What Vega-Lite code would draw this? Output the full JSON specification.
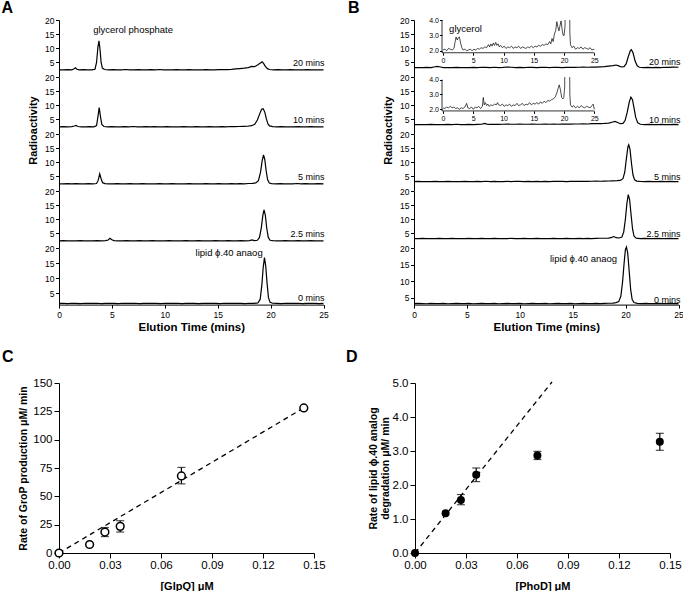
{
"$schema":"https://vega.github.io/schema/vega-lite/v6.json",
"background":"white",
"padding":{"left":1,"top":0,"right":0,"bottom":0},
"config":{"view":{"stroke":null},"font":"Liberation Sans",
"axis":{"grid":false,"labelOverlap":false,"labelFlush":false,"domainColor":"#000","tickColor":"#000","labelColor":"#000","titleColor":"#000","labelFont":"Liberation Sans","titleFont":"Liberation Sans","titleFontWeight":"bold","domainWidth":1,"tickWidth":1},
"text":{"font":"Liberation Sans","color":"#000"},"title":{"font":"Liberation Sans","color":"#000"}},
"datasets":{
"A20":[{"x":0,"y":2.4},{"x":0.4,"y":2.35},{"x":0.8,"y":2.45},{"x":1.2,"y":2.4},{"x":1.4,"y":2.7},{"x":1.55,"y":3.1},{"x":1.7,"y":2.6},{"x":1.9,"y":2.4},{"x":2.3,"y":2.45},{"x":2.7,"y":2.4},{"x":3.1,"y":2.4},{"x":3.4,"y":2.6},{"x":3.55,"y":5.0},{"x":3.68,"y":10.5},{"x":3.78,"y":12.6},{"x":3.88,"y":9.5},{"x":3.98,"y":5.0},{"x":4.1,"y":3.0},{"x":4.3,"y":2.5},{"x":4.7,"y":2.4},{"x":5.1,"y":2.45},{"x":5.5,"y":2.35},{"x":5.9,"y":2.4},{"x":6.3,"y":2.5},{"x":6.7,"y":2.4},{"x":7.1,"y":2.35},{"x":7.5,"y":2.45},{"x":7.9,"y":2.4},{"x":8.3,"y":2.35},{"x":8.7,"y":2.45},{"x":9.1,"y":2.4},{"x":9.5,"y":2.5},{"x":9.9,"y":2.4},{"x":10.3,"y":2.35},{"x":10.7,"y":2.4},{"x":11.1,"y":2.45},{"x":11.5,"y":2.35},{"x":11.9,"y":2.4},{"x":12.3,"y":2.45},{"x":12.7,"y":2.35},{"x":13.1,"y":2.4},{"x":13.5,"y":2.4},{"x":13.9,"y":2.45},{"x":14.3,"y":2.35},{"x":14.7,"y":2.4},{"x":15.1,"y":2.45},{"x":15.5,"y":2.5},{"x":15.9,"y":2.5},{"x":16.3,"y":2.55},{"x":16.7,"y":2.7},{"x":17.1,"y":2.85},{"x":17.5,"y":3.0},{"x":17.9,"y":3.2},{"x":18.2,"y":3.6},{"x":18.5,"y":3.5},{"x":18.8,"y":4.2},{"x":19.0,"y":4.7},{"x":19.2,"y":5.2},{"x":19.35,"y":4.6},{"x":19.5,"y":3.6},{"x":19.7,"y":2.8},{"x":19.9,"y":2.5},{"x":20.3,"y":2.4},{"x":20.7,"y":2.45},{"x":21.1,"y":2.4},{"x":21.5,"y":2.35},{"x":21.9,"y":2.45},{"x":22.3,"y":2.4},{"x":22.7,"y":2.35},{"x":23.1,"y":2.4},{"x":23.5,"y":2.45},{"x":23.9,"y":2.4},{"x":24.3,"y":2.35},{"x":24.7,"y":2.4},{"x":25,"y":2.4}],
"A10":[{"x":0,"y":2.4},{"x":0.4,"y":2.45},{"x":0.8,"y":2.4},{"x":1.2,"y":2.45},{"x":1.45,"y":2.7},{"x":1.6,"y":2.9},{"x":1.8,"y":2.5},{"x":2.1,"y":2.4},{"x":2.5,"y":2.35},{"x":2.9,"y":2.45},{"x":3.3,"y":2.4},{"x":3.55,"y":2.8},{"x":3.68,"y":6.0},{"x":3.8,"y":9.2},{"x":3.92,"y":6.0},{"x":4.05,"y":3.2},{"x":4.25,"y":2.5},{"x":4.6,"y":2.4},{"x":5,"y":2.45},{"x":5.4,"y":2.4},{"x":5.8,"y":2.35},{"x":6.2,"y":2.45},{"x":6.6,"y":2.4},{"x":7,"y":2.5},{"x":7.4,"y":2.4},{"x":7.8,"y":2.35},{"x":8.2,"y":2.45},{"x":8.6,"y":2.4},{"x":9,"y":2.45},{"x":9.4,"y":2.35},{"x":9.8,"y":2.4},{"x":10.2,"y":2.45},{"x":10.6,"y":2.4},{"x":11,"y":2.35},{"x":11.4,"y":2.4},{"x":11.8,"y":2.45},{"x":12.2,"y":2.4},{"x":12.6,"y":2.35},{"x":13,"y":2.45},{"x":13.4,"y":2.4},{"x":13.8,"y":2.4},{"x":14.2,"y":2.45},{"x":14.6,"y":2.35},{"x":15,"y":2.4},{"x":15.4,"y":2.45},{"x":15.8,"y":2.4},{"x":16.2,"y":2.5},{"x":16.6,"y":2.45},{"x":17,"y":2.5},{"x":17.4,"y":2.55},{"x":17.8,"y":2.6},{"x":18.2,"y":2.8},{"x":18.5,"y":3.3},{"x":18.75,"y":4.8},{"x":18.95,"y":6.8},{"x":19.15,"y":8.6},{"x":19.3,"y":8.8},{"x":19.45,"y":7.6},{"x":19.6,"y":5.2},{"x":19.75,"y":3.4},{"x":19.9,"y":2.7},{"x":20.2,"y":2.45},{"x":20.6,"y":2.4},{"x":21,"y":2.45},{"x":21.4,"y":2.4},{"x":21.8,"y":2.35},{"x":22.2,"y":2.4},{"x":22.6,"y":2.45},{"x":23,"y":2.4},{"x":23.4,"y":2.35},{"x":23.8,"y":2.45},{"x":24.2,"y":2.4},{"x":24.6,"y":2.35},{"x":25,"y":2.4}],
"A5":[{"x":0,"y":2.4},{"x":0.4,"y":2.35},{"x":0.8,"y":2.45},{"x":1.2,"y":2.4},{"x":1.6,"y":2.45},{"x":2,"y":2.4},{"x":2.4,"y":2.35},{"x":2.8,"y":2.45},{"x":3.2,"y":2.4},{"x":3.55,"y":2.5},{"x":3.7,"y":3.6},{"x":3.85,"y":5.9},{"x":3.98,"y":4.2},{"x":4.12,"y":2.8},{"x":4.35,"y":2.45},{"x":4.7,"y":2.4},{"x":5.1,"y":2.35},{"x":5.5,"y":2.45},{"x":5.9,"y":2.4},{"x":6.3,"y":2.4},{"x":6.7,"y":2.45},{"x":7.1,"y":2.35},{"x":7.5,"y":2.4},{"x":7.9,"y":2.45},{"x":8.3,"y":2.4},{"x":8.7,"y":2.4},{"x":9.1,"y":2.35},{"x":9.5,"y":2.45},{"x":9.9,"y":2.4},{"x":10.3,"y":2.4},{"x":10.7,"y":2.45},{"x":11.1,"y":2.35},{"x":11.5,"y":2.4},{"x":11.9,"y":2.4},{"x":12.3,"y":2.45},{"x":12.7,"y":2.4},{"x":13.1,"y":2.35},{"x":13.5,"y":2.4},{"x":13.9,"y":2.45},{"x":14.3,"y":2.4},{"x":14.7,"y":2.4},{"x":15.1,"y":2.45},{"x":15.5,"y":2.4},{"x":15.9,"y":2.35},{"x":16.3,"y":2.45},{"x":16.7,"y":2.4},{"x":17.1,"y":2.45},{"x":17.5,"y":2.4},{"x":17.9,"y":2.5},{"x":18.3,"y":2.55},{"x":18.6,"y":2.7},{"x":18.85,"y":3.5},{"x":19.05,"y":6.5},{"x":19.2,"y":10.5},{"x":19.33,"y":12.6},{"x":19.45,"y":11.0},{"x":19.58,"y":7.0},{"x":19.72,"y":3.8},{"x":19.88,"y":2.7},{"x":20.1,"y":2.45},{"x":20.5,"y":2.4},{"x":20.9,"y":2.45},{"x":21.3,"y":2.4},{"x":21.7,"y":2.35},{"x":22.1,"y":2.4},{"x":22.5,"y":2.5},{"x":22.9,"y":2.4},{"x":23.3,"y":2.45},{"x":23.7,"y":2.4},{"x":24.1,"y":2.35},{"x":24.5,"y":2.45},{"x":25,"y":2.4}],
"A25":[{"x":0,"y":2.4},{"x":0.4,"y":2.45},{"x":0.8,"y":2.4},{"x":1.2,"y":2.35},{"x":1.6,"y":2.4},{"x":2,"y":2.45},{"x":2.4,"y":2.4},{"x":2.8,"y":2.4},{"x":3.2,"y":2.35},{"x":3.6,"y":2.45},{"x":4,"y":2.4},{"x":4.4,"y":2.45},{"x":4.65,"y":2.7},{"x":4.82,"y":3.3},{"x":5.0,"y":2.8},{"x":5.2,"y":2.45},{"x":5.6,"y":2.4},{"x":6,"y":2.35},{"x":6.4,"y":2.45},{"x":6.8,"y":2.4},{"x":7.2,"y":2.4},{"x":7.6,"y":2.45},{"x":8,"y":2.35},{"x":8.4,"y":2.4},{"x":8.8,"y":2.45},{"x":9.2,"y":2.4},{"x":9.6,"y":2.35},{"x":10,"y":2.4},{"x":10.4,"y":2.45},{"x":10.8,"y":2.4},{"x":11.2,"y":2.4},{"x":11.6,"y":2.35},{"x":12,"y":2.45},{"x":12.4,"y":2.4},{"x":12.8,"y":2.4},{"x":13.2,"y":2.45},{"x":13.6,"y":2.35},{"x":14,"y":2.4},{"x":14.4,"y":2.4},{"x":14.8,"y":2.45},{"x":15.2,"y":2.4},{"x":15.6,"y":2.35},{"x":16,"y":2.45},{"x":16.4,"y":2.4},{"x":16.8,"y":2.4},{"x":17.2,"y":2.45},{"x":17.6,"y":2.4},{"x":18,"y":2.45},{"x":18.25,"y":2.75},{"x":18.45,"y":2.5},{"x":18.75,"y":2.6},{"x":18.95,"y":3.6},{"x":19.12,"y":7.0},{"x":19.27,"y":11.5},{"x":19.38,"y":13.3},{"x":19.5,"y":11.5},{"x":19.63,"y":7.0},{"x":19.78,"y":3.6},{"x":19.95,"y":2.6},{"x":20.2,"y":2.45},{"x":20.6,"y":2.4},{"x":21,"y":2.35},{"x":21.4,"y":2.45},{"x":21.8,"y":2.4},{"x":22.2,"y":2.4},{"x":22.6,"y":2.45},{"x":23,"y":2.35},{"x":23.4,"y":2.4},{"x":23.8,"y":2.45},{"x":24.2,"y":2.4},{"x":24.6,"y":2.35},{"x":25,"y":2.4}],
"A0":[{"x":0,"y":1.6},{"x":0.4,"y":1.65},{"x":0.8,"y":1.55},{"x":1.2,"y":1.65},{"x":1.6,"y":1.6},{"x":2,"y":1.55},{"x":2.4,"y":1.65},{"x":2.8,"y":1.6},{"x":3.2,"y":1.6},{"x":3.6,"y":1.65},{"x":4,"y":1.55},{"x":4.4,"y":1.6},{"x":4.8,"y":1.65},{"x":5.2,"y":1.6},{"x":5.6,"y":1.55},{"x":6,"y":1.65},{"x":6.4,"y":1.6},{"x":6.8,"y":1.6},{"x":7.2,"y":1.65},{"x":7.6,"y":1.55},{"x":8,"y":1.6},{"x":8.4,"y":1.65},{"x":8.8,"y":1.6},{"x":9.2,"y":1.6},{"x":9.6,"y":1.55},{"x":10,"y":1.65},{"x":10.4,"y":1.6},{"x":10.8,"y":1.6},{"x":11.2,"y":1.65},{"x":11.6,"y":1.55},{"x":12,"y":1.6},{"x":12.4,"y":1.65},{"x":12.8,"y":1.6},{"x":13.2,"y":1.55},{"x":13.6,"y":1.6},{"x":14,"y":1.65},{"x":14.4,"y":1.6},{"x":14.8,"y":1.6},{"x":15.2,"y":1.55},{"x":15.6,"y":1.65},{"x":16,"y":1.6},{"x":16.4,"y":1.6},{"x":16.8,"y":1.65},{"x":17.2,"y":1.6},{"x":17.6,"y":1.55},{"x":18,"y":1.65},{"x":18.4,"y":1.6},{"x":18.8,"y":1.75},{"x":19.02,"y":3.0},{"x":19.18,"y":8.0},{"x":19.3,"y":13.5},{"x":19.42,"y":16.8},{"x":19.54,"y":14.0},{"x":19.66,"y":8.5},{"x":19.8,"y":3.5},{"x":19.95,"y":2.0},{"x":20.2,"y":1.65},{"x":20.6,"y":1.6},{"x":21,"y":1.55},{"x":21.4,"y":1.65},{"x":21.8,"y":1.6},{"x":22.2,"y":1.6},{"x":22.6,"y":1.65},{"x":23,"y":1.55},{"x":23.4,"y":1.6},{"x":23.8,"y":1.65},{"x":24.2,"y":1.6},{"x":24.6,"y":1.55},{"x":25,"y":1.6}],
"B20":[{"x":0,"y":3.2},{"x":0.4,"y":3.15},{"x":0.8,"y":3.2},{"x":1.2,"y":3.25},{"x":1.6,"y":3.2},{"x":1.9,"y":3.4},{"x":2.2,"y":3.6},{"x":2.5,"y":3.4},{"x":2.8,"y":3.2},{"x":3.2,"y":3.15},{"x":3.6,"y":3.2},{"x":4,"y":3.25},{"x":4.4,"y":3.2},{"x":4.8,"y":3.15},{"x":5.2,"y":3.2},{"x":5.6,"y":3.25},{"x":6,"y":3.2},{"x":6.4,"y":3.3},{"x":6.8,"y":3.25},{"x":7.2,"y":3.2},{"x":7.6,"y":3.3},{"x":8,"y":3.2},{"x":8.4,"y":3.25},{"x":8.8,"y":3.4},{"x":9.2,"y":3.3},{"x":9.6,"y":3.2},{"x":10,"y":3.25},{"x":10.4,"y":3.2},{"x":10.8,"y":3.3},{"x":11.2,"y":3.25},{"x":11.6,"y":3.2},{"x":12,"y":3.25},{"x":12.4,"y":3.3},{"x":12.8,"y":3.2},{"x":13.2,"y":3.3},{"x":13.6,"y":3.25},{"x":14,"y":3.2},{"x":14.4,"y":3.25},{"x":14.8,"y":3.3},{"x":15.2,"y":3.25},{"x":15.6,"y":3.3},{"x":16,"y":3.35},{"x":16.4,"y":3.3},{"x":16.8,"y":3.4},{"x":17.2,"y":3.35},{"x":17.6,"y":3.45},{"x":18,"y":3.5},{"x":18.4,"y":3.7},{"x":18.8,"y":3.9},{"x":19.1,"y":4.1},{"x":19.35,"y":3.8},{"x":19.6,"y":3.4},{"x":19.85,"y":3.5},{"x":20.05,"y":4.5},{"x":20.25,"y":7.0},{"x":20.45,"y":9.2},{"x":20.55,"y":9.5},{"x":20.7,"y":8.4},{"x":20.9,"y":5.5},{"x":21.1,"y":3.8},{"x":21.3,"y":3.3},{"x":21.7,"y":3.2},{"x":22.1,"y":3.25},{"x":22.5,"y":3.2},{"x":22.9,"y":3.25},{"x":23.3,"y":3.2},{"x":23.7,"y":3.3},{"x":24.1,"y":3.25},{"x":24.5,"y":3.35},{"x":25,"y":3.3}],
"B10":[{"x":0,"y":3.2},{"x":0.4,"y":3.15},{"x":0.8,"y":3.2},{"x":1.2,"y":3.2},{"x":1.6,"y":3.25},{"x":2,"y":3.2},{"x":2.4,"y":3.15},{"x":2.8,"y":3.2},{"x":3.2,"y":3.25},{"x":3.6,"y":3.2},{"x":4,"y":3.3},{"x":4.4,"y":3.2},{"x":4.8,"y":3.2},{"x":5.2,"y":3.25},{"x":5.6,"y":3.2},{"x":6,"y":3.25},{"x":6.4,"y":3.3},{"x":6.65,"y":3.6},{"x":6.9,"y":3.35},{"x":7.2,"y":3.25},{"x":7.6,"y":3.3},{"x":8,"y":3.25},{"x":8.4,"y":3.3},{"x":8.8,"y":3.4},{"x":9.2,"y":3.3},{"x":9.6,"y":3.3},{"x":10,"y":3.35},{"x":10.4,"y":3.3},{"x":10.8,"y":3.3},{"x":11.2,"y":3.35},{"x":11.6,"y":3.3},{"x":12,"y":3.3},{"x":12.4,"y":3.35},{"x":12.8,"y":3.3},{"x":13.2,"y":3.35},{"x":13.6,"y":3.3},{"x":14,"y":3.35},{"x":14.4,"y":3.4},{"x":14.8,"y":3.35},{"x":15.2,"y":3.4},{"x":15.6,"y":3.4},{"x":16,"y":3.45},{"x":16.4,"y":3.4},{"x":16.8,"y":3.5},{"x":17.2,"y":3.5},{"x":17.6,"y":3.55},{"x":18,"y":3.6},{"x":18.4,"y":3.7},{"x":18.7,"y":4.0},{"x":19.0,"y":4.3},{"x":19.25,"y":3.9},{"x":19.5,"y":3.5},{"x":19.75,"y":3.6},{"x":19.95,"y":4.6},{"x":20.15,"y":7.5},{"x":20.35,"y":11.2},{"x":20.5,"y":12.9},{"x":20.65,"y":12.0},{"x":20.8,"y":9.0},{"x":20.95,"y":5.8},{"x":21.15,"y":3.8},{"x":21.4,"y":3.3},{"x":21.8,"y":3.2},{"x":22.2,"y":3.25},{"x":22.6,"y":3.2},{"x":23,"y":3.2},{"x":23.4,"y":3.25},{"x":23.8,"y":3.2},{"x":24.2,"y":3.2},{"x":24.6,"y":3.25},{"x":25,"y":3.2}],
"B5":[{"x":0,"y":3.2},{"x":0.4,"y":3.25},{"x":0.8,"y":3.2},{"x":1.2,"y":3.15},{"x":1.6,"y":3.2},{"x":2,"y":3.25},{"x":2.4,"y":3.2},{"x":2.8,"y":3.2},{"x":3.2,"y":3.25},{"x":3.6,"y":3.2},{"x":4,"y":3.15},{"x":4.4,"y":3.2},{"x":4.8,"y":3.25},{"x":5.2,"y":3.2},{"x":5.6,"y":3.2},{"x":6,"y":3.25},{"x":6.4,"y":3.2},{"x":6.8,"y":3.3},{"x":7.2,"y":3.2},{"x":7.6,"y":3.25},{"x":8,"y":3.2},{"x":8.4,"y":3.2},{"x":8.8,"y":3.25},{"x":9.2,"y":3.2},{"x":9.6,"y":3.3},{"x":10,"y":3.25},{"x":10.4,"y":3.2},{"x":10.8,"y":3.25},{"x":11.2,"y":3.2},{"x":11.6,"y":3.25},{"x":12,"y":3.2},{"x":12.4,"y":3.25},{"x":12.8,"y":3.2},{"x":13.2,"y":3.25},{"x":13.6,"y":3.3},{"x":14,"y":3.25},{"x":14.4,"y":3.2},{"x":14.8,"y":3.25},{"x":15.2,"y":3.3},{"x":15.6,"y":3.25},{"x":16,"y":3.3},{"x":16.4,"y":3.25},{"x":16.8,"y":3.3},{"x":17.2,"y":3.35},{"x":17.6,"y":3.3},{"x":18,"y":3.35},{"x":18.4,"y":3.4},{"x":18.8,"y":3.45},{"x":19.2,"y":3.5},{"x":19.5,"y":3.6},{"x":19.75,"y":4.2},{"x":19.92,"y":6.5},{"x":20.08,"y":11.5},{"x":20.22,"y":15.5},{"x":20.3,"y":16.2},{"x":20.42,"y":14.5},{"x":20.56,"y":9.5},{"x":20.7,"y":5.5},{"x":20.85,"y":3.8},{"x":21.05,"y":3.35},{"x":21.4,"y":3.25},{"x":21.8,"y":3.2},{"x":22.2,"y":3.25},{"x":22.6,"y":3.2},{"x":23,"y":3.2},{"x":23.4,"y":3.25},{"x":23.8,"y":3.2},{"x":24.2,"y":3.25},{"x":24.6,"y":3.2},{"x":25,"y":3.2}],
"B25":[{"x":0,"y":3.2},{"x":0.4,"y":3.2},{"x":0.8,"y":3.25},{"x":1.2,"y":3.2},{"x":1.6,"y":3.15},{"x":2,"y":3.2},{"x":2.4,"y":3.25},{"x":2.8,"y":3.2},{"x":3.2,"y":3.2},{"x":3.6,"y":3.25},{"x":4,"y":3.2},{"x":4.4,"y":3.15},{"x":4.8,"y":3.2},{"x":5.2,"y":3.25},{"x":5.6,"y":3.2},{"x":6,"y":3.2},{"x":6.4,"y":3.25},{"x":6.8,"y":3.2},{"x":7.2,"y":3.2},{"x":7.6,"y":3.25},{"x":8,"y":3.2},{"x":8.4,"y":3.15},{"x":8.8,"y":3.2},{"x":9.2,"y":3.25},{"x":9.6,"y":3.2},{"x":10,"y":3.2},{"x":10.4,"y":3.25},{"x":10.8,"y":3.2},{"x":11.2,"y":3.2},{"x":11.6,"y":3.25},{"x":12,"y":3.2},{"x":12.4,"y":3.15},{"x":12.8,"y":3.2},{"x":13.2,"y":3.25},{"x":13.6,"y":3.2},{"x":14,"y":3.2},{"x":14.4,"y":3.25},{"x":14.8,"y":3.2},{"x":15.2,"y":3.2},{"x":15.6,"y":3.25},{"x":16,"y":3.2},{"x":16.4,"y":3.25},{"x":16.8,"y":3.2},{"x":17.2,"y":3.25},{"x":17.6,"y":3.3},{"x":18,"y":3.3},{"x":18.4,"y":3.35},{"x":18.7,"y":3.6},{"x":18.9,"y":3.9},{"x":19.1,"y":3.5},{"x":19.4,"y":3.4},{"x":19.65,"y":3.7},{"x":19.82,"y":5.5},{"x":19.98,"y":10.0},{"x":20.12,"y":15.5},{"x":20.25,"y":18.7},{"x":20.38,"y":17.0},{"x":20.52,"y":11.5},{"x":20.66,"y":6.5},{"x":20.8,"y":4.0},{"x":21.0,"y":3.35},{"x":21.4,"y":3.2},{"x":21.8,"y":3.25},{"x":22.2,"y":3.2},{"x":22.6,"y":3.2},{"x":23,"y":3.25},{"x":23.4,"y":3.2},{"x":23.8,"y":3.2},{"x":24.2,"y":3.25},{"x":24.6,"y":3.2},{"x":25,"y":3.2}],
"B0":[{"x":0,"y":3.3},{"x":0.4,"y":3.35},{"x":0.8,"y":3.3},{"x":1.2,"y":3.25},{"x":1.6,"y":3.35},{"x":2,"y":3.3},{"x":2.4,"y":3.3},{"x":2.8,"y":3.35},{"x":3.2,"y":3.25},{"x":3.6,"y":3.3},{"x":4,"y":3.35},{"x":4.4,"y":3.3},{"x":4.8,"y":3.3},{"x":5.2,"y":3.35},{"x":5.6,"y":3.25},{"x":6,"y":3.3},{"x":6.4,"y":3.35},{"x":6.8,"y":3.3},{"x":7.2,"y":3.3},{"x":7.6,"y":3.35},{"x":8,"y":3.25},{"x":8.4,"y":3.3},{"x":8.8,"y":3.35},{"x":9.2,"y":3.3},{"x":9.6,"y":3.3},{"x":10,"y":3.35},{"x":10.4,"y":3.25},{"x":10.8,"y":3.3},{"x":11.2,"y":3.35},{"x":11.6,"y":3.3},{"x":12,"y":3.3},{"x":12.4,"y":3.35},{"x":12.8,"y":3.25},{"x":13.2,"y":3.3},{"x":13.6,"y":3.35},{"x":14,"y":3.3},{"x":14.4,"y":3.3},{"x":14.8,"y":3.35},{"x":15.2,"y":3.25},{"x":15.6,"y":3.3},{"x":16,"y":3.35},{"x":16.4,"y":3.3},{"x":16.8,"y":3.3},{"x":17.2,"y":3.35},{"x":17.6,"y":3.3},{"x":18,"y":3.35},{"x":18.4,"y":3.4},{"x":18.8,"y":3.45},{"x":19.1,"y":3.6},{"x":19.35,"y":3.9},{"x":19.55,"y":5.5},{"x":19.72,"y":10.0},{"x":19.86,"y":15.5},{"x":19.98,"y":19.5},{"x":20.08,"y":20.3},{"x":20.2,"y":18.5},{"x":20.34,"y":13.0},{"x":20.48,"y":7.5},{"x":20.62,"y":4.5},{"x":20.8,"y":3.6},{"x":21.1,"y":3.35},{"x":21.5,"y":3.3},{"x":21.9,"y":3.35},{"x":22.3,"y":3.3},{"x":22.7,"y":3.3},{"x":23.1,"y":3.35},{"x":23.5,"y":3.3},{"x":23.9,"y":3.3},{"x":24.3,"y":3.35},{"x":24.7,"y":3.3},{"x":25,"y":3.3}],
"I20":[{"x":0,"y":2.05},{"x":0.3,"y":2.1},{"x":0.6,"y":2.0},{"x":0.9,"y":2.15},{"x":1.2,"y":2.1},{"x":1.5,"y":2.05},{"x":1.8,"y":2.15},{"x":2.0,"y":2.6},{"x":2.15,"y":2.9},{"x":2.35,"y":2.7},{"x":2.5,"y":2.85},{"x":2.7,"y":2.9},{"x":2.9,"y":2.5},{"x":3.1,"y":2.2},{"x":3.3,"y":2.05},{"x":3.6,"y":2.1},{"x":3.9,"y":2.0},{"x":4.2,"y":2.05},{"x":4.5,"y":2.1},{"x":4.8,"y":2.0},{"x":5.1,"y":2.1},{"x":5.4,"y":2.05},{"x":5.7,"y":2.15},{"x":6.0,"y":2.1},{"x":6.3,"y":2.2},{"x":6.6,"y":2.15},{"x":6.9,"y":2.25},{"x":7.2,"y":2.2},{"x":7.5,"y":2.4},{"x":7.7,"y":2.25},{"x":7.9,"y":2.45},{"x":8.1,"y":2.3},{"x":8.3,"y":2.5},{"x":8.5,"y":2.35},{"x":8.7,"y":2.55},{"x":8.9,"y":2.35},{"x":9.1,"y":2.45},{"x":9.3,"y":2.25},{"x":9.5,"y":2.35},{"x":9.8,"y":2.2},{"x":10.1,"y":2.3},{"x":10.4,"y":2.15},{"x":10.7,"y":2.25},{"x":11.0,"y":2.2},{"x":11.3,"y":2.3},{"x":11.6,"y":2.15},{"x":11.9,"y":2.25},{"x":12.2,"y":2.2},{"x":12.5,"y":2.3},{"x":12.8,"y":2.15},{"x":13.1,"y":2.25},{"x":13.4,"y":2.2},{"x":13.7,"y":2.15},{"x":14.0,"y":2.25},{"x":14.3,"y":2.2},{"x":14.6,"y":2.3},{"x":14.9,"y":2.2},{"x":15.2,"y":2.3},{"x":15.5,"y":2.25},{"x":15.8,"y":2.35},{"x":16.1,"y":2.3},{"x":16.4,"y":2.4},{"x":16.7,"y":2.35},{"x":17.0,"y":2.45},{"x":17.3,"y":2.4},{"x":17.6,"y":2.6},{"x":17.8,"y":2.45},{"x":18.0,"y":2.8},{"x":18.2,"y":2.6},{"x":18.4,"y":3.1},{"x":18.6,"y":3.3},{"x":18.8,"y":3.9},{"x":19.0,"y":3.5},{"x":19.15,"y":3.3},{"x":19.3,"y":3.6},{"x":19.5,"y":3.95},{"x":19.7,"y":3.3},{"x":19.85,"y":3.0},{"x":20.0,"y":3.0},{"x":20.15,"y":3.6},{"x":20.25,"y":9},{"x":20.85,"y":9},{"x":20.95,"y":3.2},{"x":21.05,"y":2.4},{"x":21.3,"y":2.2},{"x":21.6,"y":2.3},{"x":21.9,"y":2.1},{"x":22.2,"y":2.2},{"x":22.5,"y":2.15},{"x":22.8,"y":2.25},{"x":23.1,"y":2.1},{"x":23.4,"y":2.2},{"x":23.7,"y":2.15},{"x":24.0,"y":2.1},{"x":24.3,"y":2.2},{"x":24.6,"y":2.05},{"x":24.9,"y":2.1},{"x":25,"y":2.05}],
"I10":[{"x":0,"y":2.1},{"x":0.3,"y":2.05},{"x":0.6,"y":2.15},{"x":0.9,"y":2.1},{"x":1.2,"y":2.2},{"x":1.5,"y":2.1},{"x":1.8,"y":2.15},{"x":2.1,"y":2.05},{"x":2.4,"y":2.1},{"x":2.7,"y":2.0},{"x":3.0,"y":2.1},{"x":3.3,"y":2.05},{"x":3.6,"y":2.15},{"x":3.9,"y":2.4},{"x":4.1,"y":2.1},{"x":4.4,"y":2.05},{"x":4.7,"y":2.15},{"x":5.0,"y":2.0},{"x":5.3,"y":2.15},{"x":5.6,"y":2.1},{"x":5.9,"y":2.2},{"x":6.2,"y":2.05},{"x":6.5,"y":2.2},{"x":6.65,"y":2.8},{"x":6.8,"y":2.3},{"x":7.0,"y":2.45},{"x":7.2,"y":2.25},{"x":7.4,"y":2.35},{"x":7.6,"y":2.2},{"x":7.9,"y":2.3},{"x":8.2,"y":2.25},{"x":8.5,"y":2.35},{"x":8.8,"y":2.3},{"x":9.0,"y":2.45},{"x":9.2,"y":2.3},{"x":9.5,"y":2.25},{"x":9.8,"y":2.35},{"x":10.1,"y":2.2},{"x":10.4,"y":2.3},{"x":10.7,"y":2.25},{"x":11.0,"y":2.35},{"x":11.3,"y":2.2},{"x":11.6,"y":2.3},{"x":11.9,"y":2.25},{"x":12.2,"y":2.4},{"x":12.5,"y":2.25},{"x":12.8,"y":2.3},{"x":13.1,"y":2.4},{"x":13.4,"y":2.25},{"x":13.7,"y":2.35},{"x":14.0,"y":2.3},{"x":14.3,"y":2.45},{"x":14.6,"y":2.3},{"x":14.9,"y":2.4},{"x":15.2,"y":2.35},{"x":15.5,"y":2.45},{"x":15.8,"y":2.35},{"x":16.1,"y":2.5},{"x":16.4,"y":2.4},{"x":16.7,"y":2.55},{"x":17.0,"y":2.45},{"x":17.3,"y":2.6},{"x":17.6,"y":2.55},{"x":17.9,"y":2.65},{"x":18.2,"y":2.7},{"x":18.5,"y":2.8},{"x":18.8,"y":3.1},{"x":19.0,"y":3.4},{"x":19.2,"y":3.65},{"x":19.4,"y":3.3},{"x":19.6,"y":2.8},{"x":19.8,"y":2.7},{"x":19.95,"y":2.8},{"x":20.1,"y":3.5},{"x":20.15,"y":9},{"x":20.85,"y":9},{"x":20.95,"y":3.0},{"x":21.05,"y":2.3},{"x":21.3,"y":2.15},{"x":21.6,"y":2.25},{"x":21.9,"y":2.1},{"x":22.2,"y":2.2},{"x":22.5,"y":2.1},{"x":22.8,"y":2.25},{"x":23.1,"y":2.15},{"x":23.4,"y":2.1},{"x":23.7,"y":2.2},{"x":24.0,"y":2.15},{"x":24.3,"y":2.1},{"x":24.6,"y":2.25},{"x":24.8,"y":2.35},{"x":25,"y":2.0}],
"Cpts":[{"x":0,"y":0},{"x":0.018,"y":7.5},{"x":0.027,"y":18.5},{"x":0.036,"y":23.5},{"x":0.072,"y":68},{"x":0.144,"y":128}],
"Cerr":[{"x":0.027,"lo":14.5,"hi":22.5},{"x":0.036,"lo":18.5,"hi":28.5},{"x":0.072,"lo":61,"hi":75.5}],
"Cfit":[{"x":0,"y":0},{"x":0.1445,"y":128.5}],
"Dpts":[{"x":0,"y":0},{"x":0.018,"y":1.17},{"x":0.027,"y":1.56},{"x":0.036,"y":2.3},{"x":0.072,"y":2.87},{"x":0.144,"y":3.27}],
"Derr":[{"x":0.027,"lo":1.42,"hi":1.72},{"x":0.036,"lo":2.1,"hi":2.5},{"x":0.072,"lo":2.75,"hi":2.99},{"x":0.144,"lo":3.02,"hi":3.52}],
"Dfit":[{"x":0,"y":0},{"x":0.0806,"y":5.03}]
},
"spacing":15,
"vconcat":[
{"hconcat":[
{"title":{"text":"A","anchor":"start","frame":"group","dx":-57.5,"fontSize":16,"fontWeight":"bold","offset":0},
 "spacing":0,"bounds":"flush",
 "vconcat":[
  {"width":264.5,"height":56.6,"layer":[
   {"data":{"name":"A20"},"mark":{"type":"line","color":"#000","strokeWidth":1.2},"encoding":{"x":{"field":"x","type":"quantitative","scale":{"domain":[0,25],"nice":false},"axis":null},"y":{"field":"y","type":"quantitative","scale":{"domain":[0,20],"nice":false},"axis":{"values":[5,10,15,20],"format":"d","tickCount":30,"labelOverlap":false,"tickSize":3.5,"labelFontSize":8.5,"labelPadding":1.5,"title":null}}}},
   {"data":{"values":[{}]},"mark":{"type":"text","align":"right","baseline":"alphabetic","fontSize":9,"dx":1},"encoding":{"x":{"datum":25},"y":{"datum":3.9},"text":{"value":"20 mins"}}},
   {"data":{"values":[{}]},"mark":{"type":"text","align":"center","baseline":"middle","fontSize":9.5},"encoding":{"x":{"datum":7.0},"y":{"datum":16.6},"text":{"value":"glycerol phosphate"}}}
  ]},
  {"width":264.5,"height":56.6,"layer":[
   {"data":{"name":"A10"},"mark":{"type":"line","color":"#000","strokeWidth":1.2},"encoding":{"x":{"field":"x","type":"quantitative","scale":{"domain":[0,25],"nice":false},"axis":null},"y":{"field":"y","type":"quantitative","scale":{"domain":[0,20],"nice":false},"axis":{"values":[5,10,15,20],"format":"d","tickCount":30,"labelOverlap":false,"tickSize":3.5,"labelFontSize":8.5,"labelPadding":1.5,"title":null}}}},
   {"data":{"values":[{}]},"mark":{"type":"text","align":"right","baseline":"alphabetic","fontSize":9,"dx":1},"encoding":{"x":{"datum":25},"y":{"datum":3.9},"text":{"value":"10 mins"}}}
  ]},
  {"width":264.5,"height":56.6,"layer":[
   {"data":{"name":"A5"},"mark":{"type":"line","color":"#000","strokeWidth":1.2},"encoding":{"x":{"field":"x","type":"quantitative","scale":{"domain":[0,25],"nice":false},"axis":null},"y":{"field":"y","type":"quantitative","scale":{"domain":[0,20],"nice":false},"axis":{"values":[5,10,15,20],"format":"d","tickCount":30,"labelOverlap":false,"tickSize":3.5,"labelFontSize":8.5,"labelPadding":1.5,"title":"Radioactivity","titleFontSize":11,"titlePadding":6,"titleY":-4}}}},
   {"data":{"values":[{}]},"mark":{"type":"text","align":"right","baseline":"alphabetic","fontSize":9,"dx":1},"encoding":{"x":{"datum":25},"y":{"datum":3.6},"text":{"value":"5 mins"}}}
  ]},
  {"width":264.5,"height":56.6,"layer":[
   {"data":{"name":"A25"},"mark":{"type":"line","color":"#000","strokeWidth":1.2},"encoding":{"x":{"field":"x","type":"quantitative","scale":{"domain":[0,25],"nice":false},"axis":null},"y":{"field":"y","type":"quantitative","scale":{"domain":[0,20],"nice":false},"axis":{"values":[5,10,15,20],"format":"d","tickCount":30,"labelOverlap":false,"tickSize":3.5,"labelFontSize":8.5,"labelPadding":1.5,"title":null}}}},
   {"data":{"values":[{}]},"mark":{"type":"text","align":"right","baseline":"alphabetic","fontSize":9,"dx":1},"encoding":{"x":{"datum":25},"y":{"datum":3.7},"text":{"value":"2.5 mins"}}}
  ]},
  {"width":264.5,"height":56.6,"layer":[
   {"data":{"name":"A0"},"mark":{"type":"line","color":"#000","strokeWidth":1.2},"encoding":{"x":{"field":"x","type":"quantitative","scale":{"domain":[0,25],"nice":false},"axis":{"values":[0,5,10,15,20,25],"format":"d","tickCount":30,"labelOverlap":false,"tickSize":3.5,"labelFontSize":8.5,"labelPadding":2,"title":"Elution Time (mins)","titleFontSize":11.5,"titlePadding":3}},"y":{"field":"y","type":"quantitative","scale":{"domain":[1.2,20],"nice":false,"zero":false},"axis":{"values":[5,10,15,20],"format":"d","tickCount":30,"labelOverlap":false,"tickSize":3.5,"labelFontSize":8.5,"labelPadding":1.5,"title":null}}}},
   {"data":{"values":[{}]},"mark":{"type":"text","align":"right","baseline":"alphabetic","fontSize":9,"dx":1},"encoding":{"x":{"datum":25},"y":{"datum":2.3},"text":{"value":"0 mins"}}},
   {"data":{"values":[{}]},"mark":{"type":"text","align":"right","baseline":"middle","fontSize":9.5},"encoding":{"x":{"datum":19.25},"y":{"datum":18.4},"text":{"value":"lipid ϕ.40 anaog"}}}
  ]}
 ]},
{"title":{"text":"B","anchor":"start","frame":"group","dx":-66,"fontSize":16,"fontWeight":"bold","offset":0},
 "spacing":0,"bounds":"flush",
 "vconcat":[
  {"width":264.5,"height":56.6,"layer":[
   {"layer":[
    {"data":{"name":"B20"},"mark":{"type":"line","color":"#000","strokeWidth":1.2},"encoding":{"x":{"field":"x","type":"quantitative","scale":{"domain":[0,25],"nice":false},"axis":null},"y":{"field":"y","type":"quantitative","scale":{"domain":[0,20],"nice":false},"axis":{"values":[5,10,15,20],"format":"d","tickCount":30,"labelOverlap":false,"tickSize":3.5,"labelFontSize":8.5,"labelPadding":1.5,"title":null}}}},
    {"data":{"values":[{}]},"mark":{"type":"text","align":"right","baseline":"alphabetic","fontSize":9,"dx":2},"encoding":{"x":{"datum":25},"y":{"datum":4.2},"text":{"value":"20 mins"}}}
   ]},
   {"layer":[
    {"data":{"name":"I20"},"mark":{"type":"line","color":"#000","strokeWidth":0.7,"clip":true},"encoding":{"x":{"field":"x","type":"quantitative","scale":{"domain":[-4.8,38.9],"nice":false,"zero":false},"axis":{"orient":"bottom","offset":-23.9,"values":[0,5,10,15,20,25],"format":"d","tickCount":30,"labelOverlap":false,"domain":false,"tickSize":2.5,"labelFontSize":7,"labelPadding":1,"title":null}},"y":{"field":"y","type":"quantitative","scale":{"domain":[0.31,4.01],"nice":false,"zero":false},"axis":{"orient":"left","offset":-28,"values":[2,3,4],"tickCount":30,"labelOverlap":false,"format":".1f","domain":false,"tickSize":2.5,"labelFontSize":7,"labelPadding":1,"title":null}}}},
    {"data":{"values":[{}]},"mark":{"type":"rule","color":"#000","strokeWidth":0.8},"encoding":{"x":{"datum":-0.17},"x2":{"datum":25},"y":{"datum":1.87}}},
    {"data":{"values":[{}]},"mark":{"type":"rule","color":"#000","strokeWidth":0.8},"encoding":{"x":{"datum":-0.17},"y":{"datum":1.87},"y2":{"datum":4.01}}},
    {"data":{"values":[{}]},"mark":{"type":"text","align":"left","baseline":"middle","fontSize":9.5},"encoding":{"x":{"datum":1.0},"y":{"datum":3.41},"text":{"value":"glycerol"}}}
   ]}
  ],"resolve":{"scale":{"x":"independent","y":"independent"},"axis":{"x":"independent","y":"independent"}}},
  {"width":264.5,"height":56.6,"layer":[
   {"layer":[
    {"data":{"name":"B10"},"mark":{"type":"line","color":"#000","strokeWidth":1.2},"encoding":{"x":{"field":"x","type":"quantitative","scale":{"domain":[0,25],"nice":false},"axis":null},"y":{"field":"y","type":"quantitative","scale":{"domain":[0,20],"nice":false},"axis":{"values":[5,10,15,20],"format":"d","tickCount":30,"labelOverlap":false,"tickSize":3.5,"labelFontSize":8.5,"labelPadding":1.5,"title":null}}}},
    {"data":{"values":[{}]},"mark":{"type":"text","align":"right","baseline":"alphabetic","fontSize":9,"dx":2},"encoding":{"x":{"datum":25},"y":{"datum":3.8},"text":{"value":"10 mins"}}}
   ]},
   {"layer":[
    {"data":{"name":"I10"},"mark":{"type":"line","color":"#000","strokeWidth":0.7,"clip":true},"encoding":{"x":{"field":"x","type":"quantitative","scale":{"domain":[-4.8,38.9],"nice":false,"zero":false},"axis":{"orient":"bottom","offset":-22.7,"values":[0,5,10,15,20,25],"format":"d","tickCount":30,"labelOverlap":false,"domain":false,"tickSize":2.5,"labelFontSize":7,"labelPadding":1,"title":null}},"y":{"field":"y","type":"quantitative","scale":{"domain":[0.36,4.18],"nice":false,"zero":false},"axis":{"orient":"left","offset":-28,"values":[2,3,4],"tickCount":30,"labelOverlap":false,"format":".1f","domain":false,"tickSize":2.5,"labelFontSize":7,"labelPadding":1,"title":null}}}},
    {"data":{"values":[{}]},"mark":{"type":"rule","color":"#000","strokeWidth":0.8},"encoding":{"x":{"datum":-0.17},"x2":{"datum":25},"y":{"datum":1.89}}},
    {"data":{"values":[{}]},"mark":{"type":"rule","color":"#000","strokeWidth":0.8},"encoding":{"x":{"datum":-0.17},"y":{"datum":1.89},"y2":{"datum":4.0}}}
   ]}
  ],"resolve":{"scale":{"x":"independent","y":"independent"},"axis":{"x":"independent","y":"independent"}}},
  {"width":264.5,"height":56.6,"layer":[
   {"data":{"name":"B5"},"mark":{"type":"line","color":"#000","strokeWidth":1.2},"encoding":{"x":{"field":"x","type":"quantitative","scale":{"domain":[0,25],"nice":false},"axis":null},"y":{"field":"y","type":"quantitative","scale":{"domain":[0,20],"nice":false},"axis":{"values":[5,10,15,20],"format":"d","tickCount":30,"labelOverlap":false,"tickSize":3.5,"labelFontSize":8.5,"labelPadding":1.5,"title":"Radioactivity","titleFontSize":11,"titlePadding":6,"titleY":-4}}}},
   {"data":{"values":[{}]},"mark":{"type":"text","align":"right","baseline":"alphabetic","fontSize":9,"dx":2},"encoding":{"x":{"datum":25},"y":{"datum":3.6},"text":{"value":"5 mins"}}}
  ]},
  {"width":264.5,"height":56.6,"layer":[
   {"data":{"name":"B25"},"mark":{"type":"line","color":"#000","strokeWidth":1.2},"encoding":{"x":{"field":"x","type":"quantitative","scale":{"domain":[0,25],"nice":false},"axis":null},"y":{"field":"y","type":"quantitative","scale":{"domain":[0,20],"nice":false},"axis":{"values":[5,10,15,20],"format":"d","tickCount":30,"labelOverlap":false,"tickSize":3.5,"labelFontSize":8.5,"labelPadding":1.5,"title":null}}}},
   {"data":{"values":[{}]},"mark":{"type":"text","align":"right","baseline":"alphabetic","fontSize":9,"dx":2},"encoding":{"x":{"datum":25},"y":{"datum":3.7},"text":{"value":"2.5 mins"}}}
  ]},
  {"width":264.5,"height":56.6,"layer":[
   {"data":{"name":"B0"},"mark":{"type":"line","color":"#000","strokeWidth":1.2},"encoding":{"x":{"field":"x","type":"quantitative","scale":{"domain":[0,25],"nice":false},"axis":{"values":[0,5,10,15,20,25],"format":"d","tickCount":30,"labelOverlap":false,"tickSize":3.5,"labelFontSize":8.5,"labelPadding":2,"title":"Elution Time (mins)","titleFontSize":11.5,"titlePadding":3}},"y":{"field":"y","type":"quantitative","scale":{"domain":[3,20],"nice":false,"zero":false},"axis":{"values":[5,10,15,20],"format":"d","tickCount":30,"labelOverlap":false,"tickSize":3.5,"labelFontSize":8.5,"labelPadding":1.5,"title":null}}}},
   {"data":{"values":[{}]},"mark":{"type":"text","align":"right","baseline":"alphabetic","fontSize":9,"dx":2},"encoding":{"x":{"datum":25},"y":{"datum":3.6},"text":{"value":"0 mins"}}},
   {"data":{"values":[{}]},"mark":{"type":"text","align":"right","baseline":"middle","fontSize":9.5},"encoding":{"x":{"datum":19.2},"y":{"datum":16.7},"text":{"value":"lipid ϕ.40 anaog"}}}
  ]}
 ]}
],"spacing":19},
{"hconcat":[
 {"width":255,"height":170,
  "title":{"text":"C","anchor":"start","frame":"group","dx":-57,"fontSize":16,"fontWeight":"bold","offset":12},
  "layer":[
   {"data":{"name":"Cfit"},"mark":{"type":"line","color":"#000","strokeDash":[5,4],"strokeWidth":1.3},"encoding":{"x":{"field":"x","type":"quantitative","scale":{"domain":[0,0.15],"nice":false},"axis":{"values":[0,0.03,0.06,0.09,0.12,0.15],"tickCount":30,"labelOverlap":false,"format":".2f","tickSize":5,"labelFontSize":11.5,"labelPadding":1,"title":"[GlpQ] μM","titleFontSize":11,"titlePadding":9.5}},"y":{"field":"y","type":"quantitative","scale":{"domain":[0,150],"nice":false},"axis":{"values":[0,25,50,75,100,125,150],"format":"d","tickCount":30,"labelOverlap":false,"tickSize":5,"labelFontSize":11.5,"labelPadding":2,"title":"Rate of GroP production μM/ min","titleFontSize":10.5,"titlePadding":4}}}},
   {"data":{"name":"Cerr"},"mark":{"type":"rule","color":"#000","strokeWidth":1.2},"encoding":{"x":{"field":"x","type":"quantitative"},"y":{"field":"lo","type":"quantitative"},"y2":{"field":"hi"}}},
   {"data":{"name":"Cerr"},"mark":{"type":"tick","orient":"horizontal","color":"#000","size":8,"thickness":1.2},"encoding":{"x":{"field":"x","type":"quantitative"},"y":{"field":"lo","type":"quantitative"}}},
   {"data":{"name":"Cerr"},"mark":{"type":"tick","orient":"horizontal","color":"#000","size":8,"thickness":1.2},"encoding":{"x":{"field":"x","type":"quantitative"},"y":{"field":"hi","type":"quantitative"}}},
   {"data":{"name":"Cpts"},"mark":{"type":"point","shape":"circle","filled":false,"fill":"white","fillOpacity":1,"stroke":"#000","strokeWidth":1.5,"size":60,"opacity":1,"clip":false},"encoding":{"x":{"field":"x","type":"quantitative"},"y":{"field":"y","type":"quantitative"}}}
  ]},
 {"width":255,"height":170,
  "title":{"text":"D","anchor":"start","frame":"group","dx":-69,"fontSize":16,"fontWeight":"bold","offset":12},
  "layer":[
   {"data":{"name":"Dfit"},"mark":{"type":"line","color":"#000","strokeDash":[5,4],"strokeWidth":1.3},"encoding":{"x":{"field":"x","type":"quantitative","scale":{"domain":[0,0.15],"nice":false},"axis":{"values":[0,0.03,0.06,0.09,0.12,0.15],"tickCount":30,"labelOverlap":false,"format":".2f","tickSize":5,"labelFontSize":11.5,"labelPadding":1,"title":"[PhoD] μM","titleFontSize":11,"titlePadding":9.5}},"y":{"field":"y","type":"quantitative","scale":{"domain":[0,5],"nice":false},"axis":{"values":[0,1,2,3,4,5],"tickCount":30,"labelOverlap":false,"format":".1f","tickSize":5,"labelFontSize":11.5,"labelPadding":2,"title":["Rate of lipid ϕ.40 analog","degradation μM/ min"],"titleFontSize":10.5,"titlePadding":2,"titleLineHeight":12}}}},
   {"data":{"name":"Derr"},"mark":{"type":"rule","color":"#000","strokeWidth":1.2},"encoding":{"x":{"field":"x","type":"quantitative"},"y":{"field":"lo","type":"quantitative"},"y2":{"field":"hi"}}},
   {"data":{"name":"Derr"},"mark":{"type":"tick","orient":"horizontal","color":"#000","size":8,"thickness":1.2},"encoding":{"x":{"field":"x","type":"quantitative"},"y":{"field":"lo","type":"quantitative"}}},
   {"data":{"name":"Derr"},"mark":{"type":"tick","orient":"horizontal","color":"#000","size":8,"thickness":1.2},"encoding":{"x":{"field":"x","type":"quantitative"},"y":{"field":"hi","type":"quantitative"}}},
   {"data":{"name":"Dpts"},"mark":{"type":"point","shape":"circle","filled":true,"color":"#000","size":64,"opacity":1,"clip":false},"encoding":{"x":{"field":"x","type":"quantitative"},"y":{"field":"y","type":"quantitative"}}}
  ]}
],"spacing":101,"bounds":"flush"}
]
}
